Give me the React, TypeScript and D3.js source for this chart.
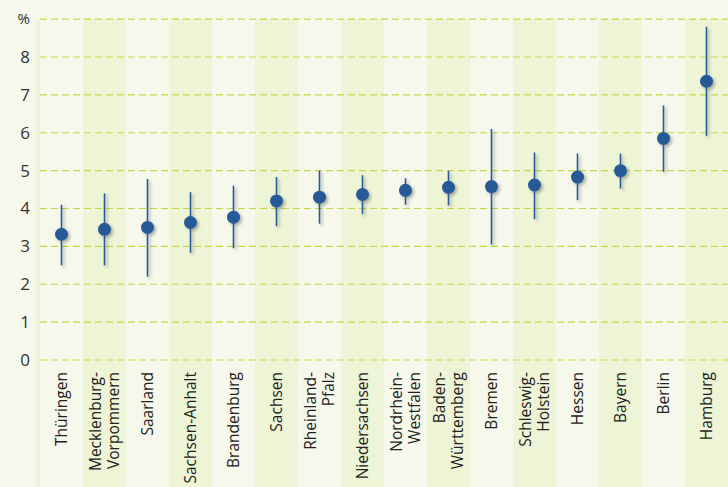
import * as d3 from 'd3';

const states = [
  'Thüringen', 'Mecklenburg-\nVorpommern', 'Saarland', 'Sachsen-Anhalt', 'Brandenburg', 'Sachsen',
  'Rheinland-\nPfalz', 'Niedersachsen', 'Nordrhein-\nWestfalen', 'Baden-\nWürttemberg', 'Bremen',
  'Schleswig-\nHolstein', 'Hessen', 'Bayern', 'Berlin', 'Hamburg',
];
const values = [3.32, 3.45, 3.5, 3.63, 3.77, 4.2, 4.3, 4.37, 4.48, 4.56, 4.58, 4.62, 4.83, 5.0, 5.85, 7.36];
const lows = [2.5, 2.5, 2.2, 2.83, 2.95, 3.53, 3.6, 3.85, 4.1, 4.08, 3.05, 3.72, 4.22, 4.53, 4.97, 5.92];
const highs = [4.1, 4.4, 4.78, 4.43, 4.6, 4.83, 5.0, 4.88, 4.8, 5.0, 6.1, 5.48, 5.45, 5.45, 6.72, 8.8];
const ticks = [0, 1, 2, 3, 4, 5, 6, 7, 8];

const W = 728;
const H = 487;
const X0 = 40;
const FONT = '"Open Sans", "Noto Sans", sans-serif';

export default function App() {
  const x = d3.scaleBand<number>().domain(d3.range(states.length)).range([X0, W]);
  const y = d3.scaleLinear().domain([0, 8]).range([360, 57]);

  return (
    <svg width={W} height={H} style={{ position: 'absolute', left: 0, top: 0 }}>
      <defs>
        <filter id="sh" filterUnits="userSpaceOnUse" x="0" y="0" width={W} height={H}>
          <feDropShadow dx="2" dy="2" stdDeviation="1.5" floodColor="#000" floodOpacity="0.3" />
        </filter>
      </defs>
      <rect width={W} height={H} fill="#f5f8ea" />
      <rect x={36} y={19} width={4} height={H - 19} fill="#eef4d8" />
      {states.map((_, i) => (
        <rect key={i} x={x(i)} y={19} width={x.bandwidth()} height={H - 19}
          fill={i % 2 ? '#eef4d6' : '#f5f8ea'} />
      ))}
      {[...ticks, 9].map((t) => (
        <line key={t} x1={X0} x2={W} y1={y(t)} y2={y(t)} stroke="#c3d944" strokeWidth={1.2}
          strokeDasharray="7,4" />
      ))}
      {ticks.map((t) => (
        <text key={t} x={30} y={y(t)} dy="0.35em" textAnchor="end" fontFamily={FONT} fontSize={17}
          fill="#333">{t}</text>
      ))}
      <text x={30} y={y(9)} dy="0.35em" textAnchor="end" fontFamily={FONT} fontSize={15} fill="#333">%</text>
      {states.map((s, i) => {
        const cx = x(i)! + x.bandwidth() / 2;
        return (
          <g key={s}>
            <g filter="url(#sh)">
              <line x1={cx} x2={cx} y1={y(lows[i])} y2={y(highs[i])} stroke="#285a96" strokeWidth={1.6} />
              <circle cx={cx} cy={y(values[i])} r={6.5} fill="#285a96" />
            </g>
            {s.split('\n').map((line, j, arr) => (
              <text key={j} transform={`translate(${cx + (j - (arr.length - 1) / 2) * 18},372) rotate(-90)`}
                dy="0.35em" textAnchor="end" fontFamily={FONT} fontSize={15.5} fill="#222">{line}</text>
            ))}
          </g>
        );
      })}
    </svg>
  );
}
